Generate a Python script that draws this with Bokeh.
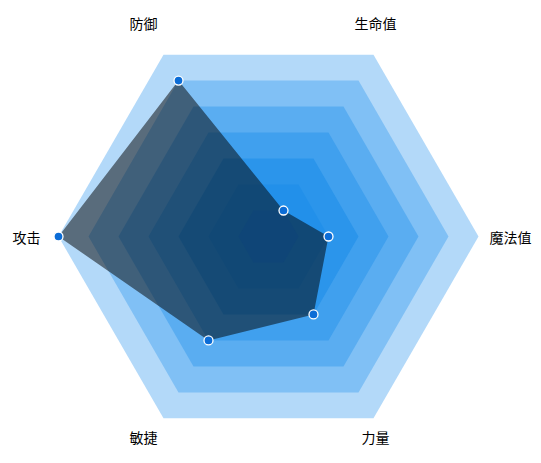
import math
from bokeh.plotting import figure
from bokeh.models import ColumnDataSource
from bokeh.embed import file_html
from bokeh.resources import INLINE
from bokeh.core.properties import value

# ---- data ----
indicators = ["生命值", "防御", "攻击", "敏捷", "力量", "魔法值"]
values = [10, 60, 70, 40, 30, 20]
max_value = 70
split_number = 7
ring_colors = ["#b3d9f9", "#80c0f5", "#5aadf1", "#40a0ee", "#2b95eb", "#2290ea", "#1e8aee"]

# ---- geometry (value units; 3 px per unit) ----
W, H = 541, 463
PX = 3.0
CX, CY = 268, 236  # pixel centre
x_range = (-CX / PX, (W - CX) / PX)
y_range = (-(H - CY) / PX, CY / PX)
start_angle = 60.0
n = len(indicators)
angles = [math.radians(start_angle + 360.0 * i / n) for i in range(n)]

p = figure(width=W, height=H, x_range=x_range, y_range=y_range,
           output_backend="svg", toolbar_location=None,
           min_border=0, min_border_left=0, min_border_right=0,
           min_border_top=0, min_border_bottom=0)
p.axis.visible = False
p.grid.visible = False
p.outline_line_color = None
p.background_fill_color = "white"
p.border_fill_color = "white"

# split areas: filled hexagons from outer to inner
for k in range(split_number):
    r = max_value * (split_number - k) / split_number
    xs = [r * math.cos(a) for a in angles]
    ys = [r * math.sin(a) for a in angles]
    p.patch(xs, ys, fill_color=ring_colors[k], line_color=None)

# data polygon
dx = [v * math.cos(a) for v, a in zip(values, angles)]
dy = [v * math.sin(a) for v, a in zip(values, angles)]
p.patch(dx, dy, fill_color="black", fill_alpha=0.5, line_color=None)

# markers
p.scatter(dx, dy, size=9, fill_color="#0b6cd6", line_color="white", line_width=1.3)

# indicator names
lx, ly = [], []
for a in angles:
    c, s = math.cos(a), math.sin(a)
    if abs(s) < 0.01:
        lx.append((242 * c) / PX)
        ly.append(0)
    else:
        lx.append((232 * c - 9) / PX)
        ly.append((247 if s > 0 else 232) * s / PX)
src = ColumnDataSource(dict(x=lx, y=ly, t=indicators))
p.text(x="x", y="y", text="t", source=src, text_align="center", text_baseline="middle",
       text_font=value("Noto Sans CJK SC"), text_font_size="14px", text_color="#000000")

open("out.html", "w").write(file_html(p, INLINE))
